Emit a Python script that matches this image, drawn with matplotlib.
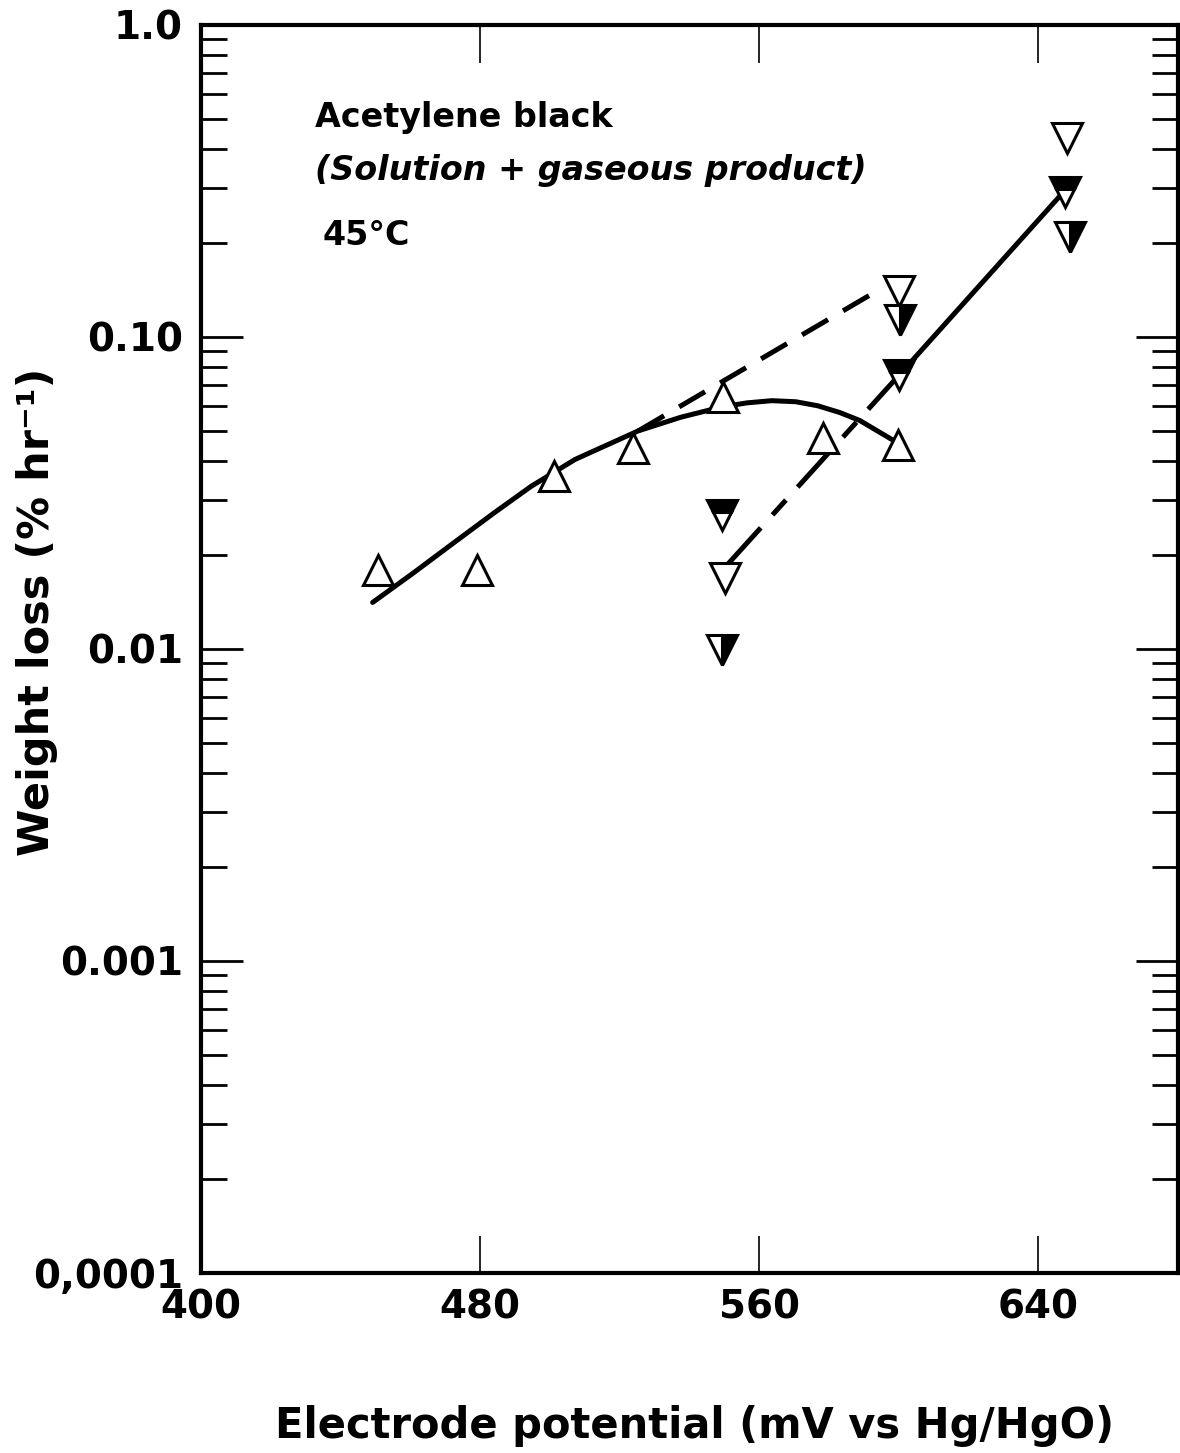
import matplotlib.pyplot as plt
from matplotlib.ticker import FixedLocator, NullFormatter, FixedFormatter

# open up-triangles
up_x = [450.7, 479.1, 501.3, 523.8, 549.5, 578.2, 599.9]
up_y = [0.0179, 0.0179, 0.0358, 0.0441, 0.0643, 0.0474, 0.0451]

# open down-triangles
dn_x = [550.1, 600.1, 648.2]
dn_y = [0.0169, 0.140, 0.434]

# down-triangles, top half filled
top_x = [549.2, 600.1, 647.6]
top_y = [0.0268, 0.0755, 0.292]

# down-triangles, right half filled
rt_x = [549.2, 600.4, 649.0]
rt_y = [0.0099, 0.113, 0.209]

# hand-drawn curves
curve_x = [449.2, 460.8, 472.7, 484.0, 494.6, 507.2, 525.3, 537.5, 549.3, 556.5,
           563.6, 570.5, 576.7, 583.0, 588.8, 598.6]
curve_y = [0.0141, 0.0175, 0.0220, 0.0273, 0.0332, 0.0405, 0.0500, 0.0553, 0.0597, 0.0615,
           0.0625, 0.0620, 0.0602, 0.0573, 0.0540, 0.0465]
dash1_x = [525.3, 595.6]
dash1_y = [0.0500, 0.1445]
dash2_x = [550.8, 600.1]
dash2_y = [0.0186, 0.0755]
solid2_x = [600.1, 647.0]
solid2_y = [0.0755, 0.290]

ytick_vals = [1e-4, 1e-3, 1e-2, 1e-1, 1.0]
ytick_labels = ["0,0001", "0.001", "0.01", "0.10", "1.0"]
xtick_vals = [400, 480, 560, 640]

fig = plt.figure(figsize=(11.8, 14.53), dpi=100)
ax = fig.add_axes([0.1703, 0.1239, 0.8280, 0.8589])

ax.set_yscale("log")
ax.set_xlim(400, 680)
ax.set_ylim(1e-4, 1.0)

lw = 3.6
ax.plot(curve_x, curve_y, color="black", lw=lw, solid_capstyle="round", solid_joinstyle="round", zorder=2)
ax.plot(dash1_x, dash1_y, color="black", lw=lw, ls=(0, (6, 3.5)), zorder=2)
ax.plot(dash2_x, dash2_y, color="black", lw=lw, ls=(0, (10, 3.5, 4, 3.5)), zorder=2)
ax.plot(solid2_x, solid2_y, color="black", lw=lw, zorder=2)

ms = 21
mew = 2.2
ax.plot(up_x, up_y, ls="none", marker="^", ms=ms, mew=mew, mec="black", mfc="white", zorder=3)
ax.plot(dn_x, dn_y, ls="none", marker="v", ms=ms, mew=mew, mec="black", mfc="white", zorder=3)
ax.plot(top_x, top_y, ls="none", marker="v", ms=ms, mew=mew, mec="black", mfc="black",
        fillstyle="top", markerfacecoloralt="white", zorder=3)
ax.plot(rt_x, rt_y, ls="none", marker="v", ms=ms, mew=mew, mec="black", mfc="black",
        fillstyle="right", markerfacecoloralt="white", zorder=3)

# axes styling
for s in ax.spines.values():
    s.set_linewidth(3)

minors = []
for d in [1e-4, 1e-3, 1e-2, 1e-1]:
    for k in range(2, 10):
        minors.append(k * d)
ax.yaxis.set_major_locator(FixedLocator(ytick_vals))
ax.yaxis.set_major_formatter(FixedFormatter(ytick_labels))
ax.yaxis.set_minor_locator(FixedLocator(minors))
ax.yaxis.set_minor_formatter(NullFormatter())
ax.set_xticks(xtick_vals)
ax.set_xticklabels([str(v) for v in xtick_vals])

ax.tick_params(axis="y", which="major", direction="in", length=30, width=2, left=True, right=True, pad=13,
               labelsize=28)
ax.tick_params(axis="y", which="minor", direction="in", length=19, width=2, left=True, right=True)
ax.tick_params(axis="x", which="major", direction="in", length=27, width=1.2, top=True, bottom=True, pad=11,
               labelsize=28)
for lab in ax.get_yticklabels() + ax.get_xticklabels():
    lab.set_fontweight("bold")

ax.set_xlabel("Electrode potential (mV vs Hg/HgO)", fontsize=30, fontweight="bold")
ax.xaxis.set_label_coords(0.505, -0.123)
ax.xaxis.label.set_va("center")
ax.set_ylabel("Weight loss (% hr⁻¹)", fontsize=31, fontweight="bold")
ax.yaxis.set_label_coords(-0.168, 0.530)
ax.yaxis.label.set_va("center")

# annotation text
ax.text(0.117, 0.9185, "Acetylene black", transform=ax.transAxes, fontsize=24, fontweight="bold",
        va="baseline", ha="left")
ax.text(0.117, 0.876, "(Solution + gaseous product)", transform=ax.transAxes, fontsize=24,
        fontweight="bold", style="italic", va="baseline", ha="left")
ax.text(0.124, 0.824, "45°C", transform=ax.transAxes, fontsize=24, fontweight="bold",
        va="baseline", ha="left")

fig.savefig("out.png", dpi=100)
